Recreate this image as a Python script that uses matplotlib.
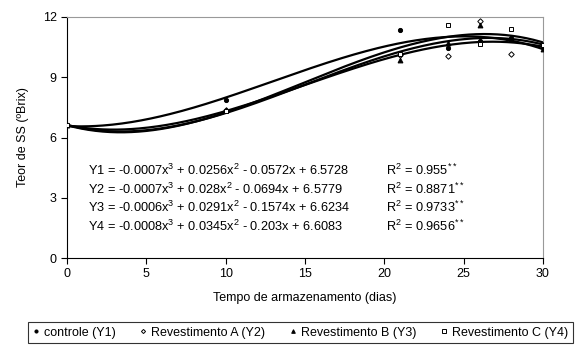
import matplotlib
matplotlib.use('agg')
import numpy as np
import matplotlib.pyplot as plt

plt.rcParams['font.family'] = ['Liberation Sans', 'DejaVu Sans']
plt.rcParams['mathtext.fontset'] = 'custom'
plt.rcParams['mathtext.rm'] = 'Liberation Sans'
plt.rcParams['mathtext.it'] = 'Liberation Sans'

# dados
dias = [0, 10, 21, 24, 26, 28, 30]
controle = [6.6, 7.85, 11.35, 10.45, 10.8, 10.95, 10.5]
rev_a = [6.6, 7.35, 10.1, 10.05, 11.8, 10.15, 10.6]
rev_b = [6.6, 7.35, 9.85, 10.7, 11.6, 10.9, 10.4]
rev_c = [6.6, 7.3, 10.15, 11.6, 10.65, 11.4, 10.6]

nomes = ['controle (Y1)', 'Revestimento A (Y2)', 'Revestimento B (Y3)', 'Revestimento C (Y4)']
equacoes = ['Y1 = -0.0007x$^3$ + 0.0256x$^2$ - 0.0572x + 6.5728',
            'Y2 = -0.0007x$^3$ + 0.028x$^2$ - 0.0694x + 6.5779',
            'Y3 = -0.0006x$^3$ + 0.0291x$^2$ - 0.1574x + 6.6234',
            'Y4 = -0.0008x$^3$ + 0.0345x$^2$ - 0.203x + 6.6083']
r2 = ['0.955', '0.8871', '0.9733', '0.9656']

series = [controle, rev_a, rev_b, rev_c]
marcadores = [('o', 'k'), ('D', 'white'), ('^', 'k'), ('s', 'white')]
tamanhos = [3, 2.8, 3.5, 3.5]

fig = plt.figure(figsize=(5.8, 3.49), dpi=100)
ax = fig.add_axes([0.1155, 0.2607, 0.8207, 0.6906])

xx = np.linspace(0, 30, 200)
for ys, (m, fc), ms, nome in zip(series, marcadores, tamanhos, nomes):
    coef = np.polyfit(dias, ys, 3)
    ax.plot(xx, np.polyval(coef, xx), color='k', lw=1.6, zorder=2)
    ax.plot(dias, ys, ls='none', marker=m, mfc=fc, mec='k', mew=0.7, ms=ms,
            label=nome, zorder=3)

ax.set_xlim(0, 30)
ax.set_ylim(0, 12)
ax.set_xticks(range(0, 31, 5))
ax.set_yticks(range(0, 13, 3))
for s in ['top', 'right']:
    ax.spines[s].set_color('#999999')
for s in ['left', 'bottom']:
    ax.spines[s].set_color('k')
ax.tick_params(direction='out', length=4, labelsize=9, width=0.8)
ax.set_xlabel('Tempo de armazenamento (dias)', fontsize=9, labelpad=8)
ax.set_ylabel('Teor de SS (ºBrix)', fontsize=9, labelpad=10)

for i in range(4):
    yt = 4.35 - i * 0.92
    ax.text(1.3, yt, equacoes[i], fontsize=9.2, va='center')
    ax.text(20.1, yt, 'R$^2$ = ' + r2[i] + '$^{**}$', fontsize=9.2, va='center')

leg = fig.legend(loc='center', bbox_to_anchor=(0.518, 0.047), ncol=4, fontsize=9,
                 frameon=True, fancybox=False, edgecolor='k', handlelength=0.5,
                 handletextpad=0.4, columnspacing=1.95, borderpad=0.35, markerscale=0.75)
leg.get_frame().set_linewidth(0.8)

fig.savefig('out.png', dpi=100)
